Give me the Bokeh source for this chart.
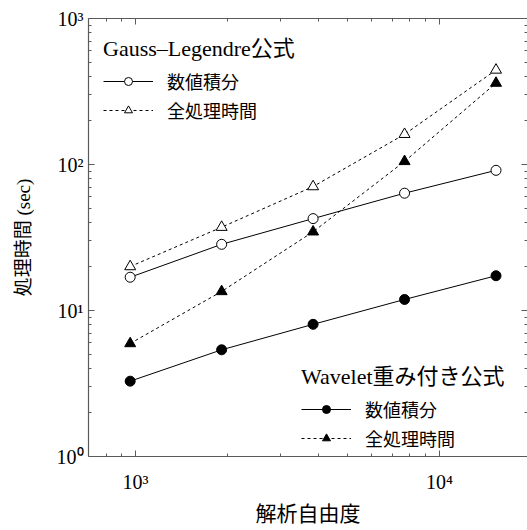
from bokeh.plotting import figure
from bokeh.models import LogAxis, FixedTicker, Legend, LegendItem, Range1d
from bokeh.core.properties import value
from bokeh.embed import file_html
from bokeh.resources import INLINE

# ---- data ----
dof = [960, 1920, 3840, 7680, 15360]
gl_integ = [16.9, 28.4, 42.6, 63.6, 91.2]
gl_total = [20.0, 37.2, 70.6, 161.0, 444.0]
wv_integ = [3.28, 5.38, 8.04, 11.9, 17.3]
wv_total = [5.94, 13.5, 34.6, 105.0, 361.0]

x_major = [1000, 10000]
x_minor = [800, 900, 2000, 3000, 4000, 5000, 6000, 7000, 8000, 9000]
x_labels = {1000: "10³", 10000: "10⁴"}
y_major = [1, 10, 100, 1000]
y_minor = [2, 3, 4, 5, 6, 7, 8, 9, 20, 30, 40, 50, 60, 70, 80, 90,
           200, 300, 400, 500, 600, 700, 800, 900]
y_labels = {1: "10⁰", 10: "10¹", 100: "10²", 1000: "10³"}

legend1_title = "Gauss–Legendre公式"
legend2_title = "Wavelet重み付き公式"
item_integ = "数値積分"
item_total = "全処理時間"
x_title = "解析自由度"
y_title = "処理時間 (sec)"

FONT = "Liberation Serif, Noto Sans CJK JP"
SPINE = "#5a5a5a"

p = figure(width=527, height=528, x_axis_type="log", y_axis_type="log",
           x_range=Range1d(700, 19500), y_range=Range1d(1, 1000),
           output_backend="svg", toolbar_location=None,
           min_border_left=88, min_border_right=0,
           min_border_top=18, min_border_bottom=68)
p.grid.visible = False
p.outline_line_color = None
p.background_fill_color = "white"
p.border_fill_color = "white"

xt = FixedTicker(ticks=x_major, minor_ticks=x_minor)
yt = FixedTicker(ticks=y_major, minor_ticks=y_minor)

def style_axis(ax, ticker, labels, show_labels, line=True):
    ax.ticker = ticker
    ax.major_tick_in = 6
    ax.major_tick_out = 0
    ax.minor_tick_in = 3
    ax.minor_tick_out = 0
    ax.major_tick_line_color = SPINE
    ax.minor_tick_line_color = SPINE
    ax.axis_line_color = SPINE if line else None
    ax.axis_line_width = 1.2
    if show_labels:
        ax.major_label_overrides = labels
        ax.major_label_text_font = FONT
        ax.major_label_text_font_size = "20px"
        ax.major_label_text_color = "black"
    else:
        ax.major_label_text_font_size = "1px"
        ax.major_label_text_alpha = 0
        ax.major_label_standoff = 0

xa = p.xaxis[0]
ya = p.yaxis[0]
style_axis(xa, xt, x_labels, True)
style_axis(ya, yt, y_labels, True)
xa.major_label_standoff = 14
ya.major_label_standoff = 5

xa.axis_label = x_title
ya.axis_label = y_title
for ax in (xa, ya):
    ax.axis_label_text_font = FONT
    ax.axis_label_text_font_style = "normal"
    ax.axis_label_text_color = "black"
xa.axis_label_text_font_size = "21px"
ya.axis_label_text_font_size = "19px"
xa.axis_label_standoff = 6
ya.axis_label_standoff = 20

top = LogAxis()
style_axis(top, xt, None, False)
p.add_layout(top, "above")
right = LogAxis()
style_axis(right, yt, None, False, line=False)
p.add_layout(right, "right")

# ---- series ----
r1l = p.line(dof, gl_integ, line_color="black", line_width=1)
r1s = p.scatter(dof, gl_integ, marker="circle", size=10, fill_color="white",
                line_color="black", line_width=1)
r2l = p.line(dof, gl_total, line_color="black", line_width=1, line_dash="3 3")
r2s = p.scatter(dof, gl_total, marker="triangle", size=11, fill_color="white",
                line_color="black", line_width=1)
r3l = p.line(dof, wv_integ, line_color="black", line_width=1)
r3s = p.scatter(dof, wv_integ, marker="circle", size=10, fill_color="black",
                line_color="black", line_width=1)
r4l = p.line(dof, wv_total, line_color="black", line_width=1, line_dash="3 3")
r4s = p.scatter(dof, wv_total, marker="triangle", size=11, fill_color="black",
                line_color="black", line_width=1)

def make_legend(title, items, loc):
    lg = Legend(items=items, title=title, location=loc,
                glyph_width=50, glyph_height=20, label_height=29,
                label_standoff=14, spacing=0, padding=0, margin=0,
                border_line_color=None, background_fill_alpha=0,
                title_standoff=4)
    lg.title_text_font = FONT
    lg.title_text_font_size = "22px"
    lg.title_text_font_style = "normal"
    lg.title_text_color = "black"
    lg.label_text_font = FONT
    lg.label_text_font_size = "18px"
    lg.label_text_color = "black"
    return lg

leg1 = make_legend(legend1_title, [
    LegendItem(label=value(item_integ), renderers=[r1l, r1s]),
    LegendItem(label=value(item_total), renderers=[r2l, r2s]),
], (15, 332))
leg2 = make_legend(legend2_title, [
    LegendItem(label=value(item_integ), renderers=[r3l, r3s]),
    LegendItem(label=value(item_total), renderers=[r4l, r4s]),
], (213, 4))
p.add_layout(leg1)
p.add_layout(leg2)

open("out.html", "w").write(file_html(p, INLINE))
